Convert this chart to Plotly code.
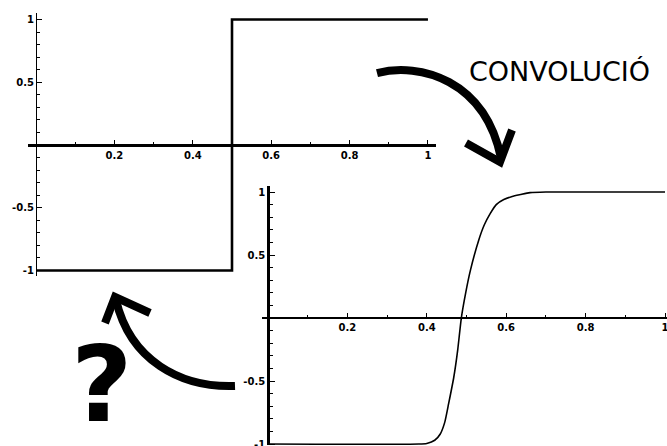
import plotly.graph_objects as go

W, H = 667, 446

# ---- data ----
step_x = [0, 0.5, 0.5, 1]
step_y = [-1, -1, 1, 1]

conv_x = [0, 0.38, 0.40, 0.42, 0.434, 0.445, 0.455, 0.468, 0.478, 0.487, 0.498, 0.51, 0.531,
          0.545, 0.56, 0.575, 0.594, 0.615, 0.636, 0.66, 0.70, 1.0]
conv_y = [-1, -1, -0.995, -0.97, -0.92, -0.83, -0.68, -0.47, -0.25, 0.0, 0.2, 0.38, 0.62,
          0.74, 0.83, 0.9, 0.94, 0.965, 0.98, 0.995, 1.0, 1.0]

x_ticks = [0.2, 0.4, 0.6, 0.8, 1]
x_labels = ["0.2", "0.4", "0.6", "0.8", "1"]
y_ticks = [-1, -0.5, 0.5, 1]
y_labels = ["-1", "-0.5", "0.5", "1"]
minor_ticks = [round(i * 0.1 - 1, 1) for i in range(21)]

title_text = "CONVOLUCIÓ"
question_text = "?"


def px(x):
    return x / W


def py(y):
    return 1 - y / H


def frac_pos(dom, rng):
    return dom[0] + (0 - rng[0]) / (rng[1] - rng[0]) * (dom[1] - dom[0])


# subplot geometry (pixels -> paper)
top_xr, top_yr = [-0.02, 1.02], [-1.04, 1.05]
top_xd = [px(28.2), px(435.8)]
top_yd = [py(275.5), py(13.2)]
bot_xr, bot_yr = [-0.015, 1.005], [-1.01, 1.05]
bot_xd = [px(262.0), 1.0]
bot_yd = [py(445.3), py(185.7)]

tickfont = dict(family="DejaVu Sans", size=10, color="black", weight="bold")

fig = go.Figure()
fig.add_trace(go.Scatter(x=step_x, y=step_y, mode="lines",
                         line=dict(color="black", width=2.6), xaxis="x", yaxis="y",
                         hoverinfo="skip", cliponaxis=False))
fig.add_trace(go.Scatter(x=conv_x, y=conv_y, mode="lines",
                         line=dict(color="black", width=1.6, shape="spline", smoothing=0.6),
                         xaxis="x2", yaxis="y2", hoverinfo="skip", cliponaxis=False))


def xaxis_cfg(dom, rng, ydom, yrng, lw):
    return dict(domain=dom, range=rng, anchor="free", position=frac_pos(ydom, yrng),
                showline=True, linecolor="black", linewidth=lw, showgrid=False, zeroline=False,
                tickmode="array", tickvals=x_ticks, ticktext=x_labels, ticks="inside",
                ticklen=4, tickcolor="black", tickwidth=1, tickfont=tickfont,
                ticklabeloverflow="allow",
                minor=dict(tickvals=minor_ticks, ticks="inside", ticklen=2, tickcolor="black"),
                automargin=False, fixedrange=True)


def yaxis_cfg(dom, rng, xdom, xrng, lw):
    return dict(domain=dom, range=rng, anchor="free", position=frac_pos(xdom, xrng),
                showline=True, linecolor="black", linewidth=lw, showgrid=False, zeroline=False,
                tickmode="array", tickvals=y_ticks, ticktext=y_labels, ticks="inside",
                ticklen=5, tickcolor="black", tickwidth=1, tickfont=tickfont,
                ticklabeloverflow="allow",
                minor=dict(tickvals=minor_ticks, ticks="inside", ticklen=3, tickcolor="black"),
                automargin=False, fixedrange=True)


def path(cmds):
    out = []
    for c in cmds:
        if isinstance(c, str):
            out.append(c)
        else:
            out.append(f"{px(c[0]):.5f},{py(c[1]):.5f}")
    return " ".join(out)


arrow_style = dict(type="path", xref="paper", yref="paper",
                   line=dict(color="black", width=8))

shapes = [
    dict(path=path(["M", (377, 73), "C", (420, 62), (485, 80), (501, 158)]), **arrow_style),
    dict(path=path(["M", (466, 143), "L", (500, 162), "L", (512, 130)]), **arrow_style),
    dict(path=path(["M", (235, 386), "C", (180, 388), (130, 360), (116, 300)]), **arrow_style),
    dict(path=path(["M", (105, 323), "L", (115, 297), "L", (150, 313)]), **arrow_style),
]

fig.update_layout(
    width=W, height=H, margin=dict(l=0, r=0, t=0, b=0, autoexpand=False),
    paper_bgcolor="white", plot_bgcolor="rgba(0,0,0,0)", showlegend=False,
    xaxis=xaxis_cfg(top_xd, top_xr, top_yd, top_yr, 3),
    yaxis=yaxis_cfg(top_yd, top_yr, top_xd, top_xr, 1.2),
    xaxis2=xaxis_cfg(bot_xd, bot_xr, bot_yd, bot_yr, 1.5),
    yaxis2=yaxis_cfg(bot_yd, bot_yr, bot_xd, bot_xr, 2.5),
    shapes=shapes,
    annotations=[
        dict(text=title_text, x=px(559), y=py(71), xref="paper", yref="paper",
             showarrow=False, xanchor="center", yanchor="middle",
             font=dict(family="DejaVu Sans", size=27, color="black")),
        dict(text=question_text, x=px(101.5), y=py(384), xref="paper", yref="paper",
             showarrow=False, xanchor="center", yanchor="middle",
             font=dict(family="DejaVu Sans", size=106, color="black", weight="bold")),
    ],
)

fig.write_html("out.html", config={"displayModeBar": False},
               post_script="document.body.style.margin='0';document.body.style.overflow='hidden';")
